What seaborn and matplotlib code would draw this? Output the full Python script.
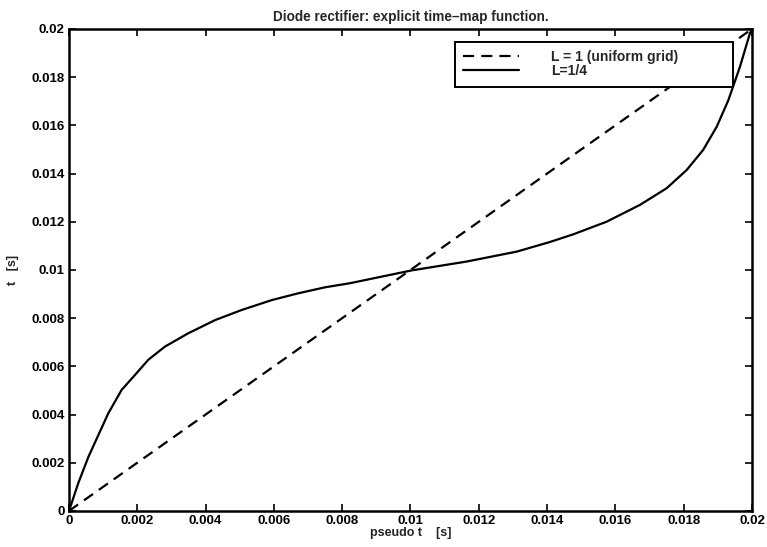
import numpy as np
import pandas as pd
import seaborn as sns
import matplotlib.pyplot as plt

# values
pseudo_t_uniform = [0.0, 0.02]
t_uniform = [0.0, 0.02]

pseudo_t_quarter = [0.0, 0.00027, 0.00057, 0.00086, 0.00115, 0.00154, 0.00193,
                    0.00232, 0.00281, 0.00349, 0.00428, 0.00506, 0.00594,
                    0.00671, 0.0075, 0.00823, 0.01003, 0.01165, 0.01311,
                    0.01406, 0.01477, 0.01574, 0.01672, 0.0175, 0.01809,
                    0.01857, 0.01897, 0.01931, 0.01965, 0.01994, 0.02]
t_quarter = [0.0, 0.00115, 0.00225, 0.00315, 0.00405, 0.00502, 0.00564,
             0.00627, 0.00682, 0.00737, 0.00792, 0.00834, 0.00875,
             0.00903, 0.00928, 0.00945, 0.00998, 0.01035, 0.01076,
             0.01115, 0.01148, 0.012, 0.0127, 0.01339, 0.01415,
             0.01498, 0.01595, 0.01705, 0.01844, 0.01982, 0.02]

labels = ["L = 1 (uniform grid)", "L=1/4"]
ticks = np.arange(0, 0.0201, 0.002)
tick_labels = ["0", "0.002", "0.004", "0.006", "0.008", "0.01",
               "0.012", "0.014", "0.016", "0.018", "0.02"]

df_uniform = pd.DataFrame({"pseudo t": pseudo_t_uniform, "t": t_uniform})
df_quarter = pd.DataFrame({"pseudo t": pseudo_t_quarter, "t": t_quarter})

sns.set_style("ticks", {"xtick.direction": "in", "ytick.direction": "in"})
plt.rcParams["font.family"] = ["Liberation Sans", "DejaVu Sans"]
plt.rcParams["font.weight"] = "bold"

fig = plt.figure(figsize=(7.67, 5.47), dpi=100)
ax = fig.add_axes([0.09, 0.066, 0.8904, 0.881])

sns.lineplot(data=df_uniform, x="pseudo t", y="t", ax=ax, color="black",
             linewidth=1.6, linestyle=(0, (5, 3.2)), label=labels[0])
sns.lineplot(data=df_quarter, x="pseudo t", y="t", ax=ax, color="black",
             linewidth=1.6, label=labels[1])

ax.set_xlim(0, 0.02)
ax.set_ylim(0, 0.02)
ax.set_xticks(ticks)
ax.set_xticklabels(tick_labels, fontsize=9.5, fontweight="bold")
ax.set_yticks(ticks)
ax.set_yticklabels(tick_labels, fontsize=9.5, fontweight="bold")
ax.tick_params(direction="in", length=5, width=1.2, top=True, right=True,
               pad=3, colors="black")
for s in ax.spines.values():
    s.set_linewidth(1.8)
    s.set_color("black")

ax.set_title("Diode rectifier: explicit time\u2013map function.", fontsize=9.8,
             fontweight="bold", pad=6)
ax.set_xlabel("pseudo t    [s]", fontsize=9, fontweight="bold", labelpad=0)
ax.set_ylabel("t   [s]", fontsize=9, fontweight="bold", labelpad=9)

leg = ax.legend(loc="upper left", bbox_to_anchor=(0.565, 0.973, 0.407, 0.0),
                mode="expand", fontsize=10, frameon=True, fancybox=False,
                framealpha=1.0, edgecolor="black", handlelength=4.0,
                handletextpad=2.3, borderpad=0.6, labelspacing=0.0,
                borderaxespad=0)
leg.get_frame().set_linewidth(1.4)
for txt in leg.get_texts():
    txt.set_fontweight("bold")

fig.savefig("out.png", dpi=100)
